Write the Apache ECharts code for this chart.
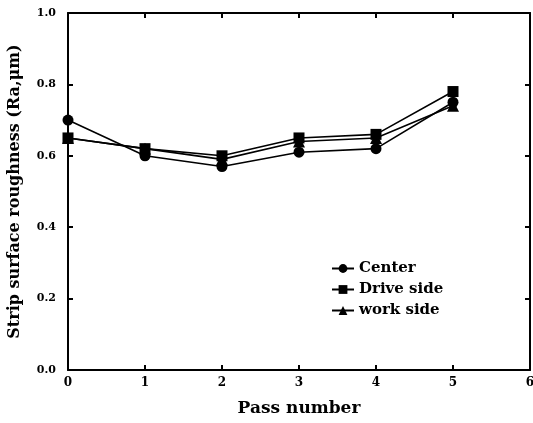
<!DOCTYPE html>
<html>
<head>
<meta charset="utf-8">
<script src="https://cdn.jsdelivr.net/npm/echarts@6/dist/echarts.min.js"></script>
<style>
  html, body { margin: 0; padding: 0; background: #fff; }
  #chart { width: 533px; height: 423px; }
</style>
</head>
<body>
<div id="chart"></div>
<script>
// Pass numbers along the rolling schedule
const passNumbers = [0, 1, 2, 3, 4, 5];

// Strip surface roughness Ra (µm) measured at three positions across the strip
const centerRa = [0.70, 0.60, 0.57, 0.61, 0.62, 0.75];
const driveSideRa = [0.65, 0.62, 0.60, 0.65, 0.66, 0.78];
const workSideRa = [0.65, 0.62, 0.59, 0.64, 0.65, 0.74];

const seriesNames = ['Center', 'Drive side', 'work side'];
const xTitle = 'Pass number';
const yTitle = 'Strip surface roughness (Ra,\u03bcm)';

const FONT = 'DejaVu Serif';
const INK = '#000';

function pairs(values) {
  return passNumbers.map((p, i) => [p, values[i]]);
}

function lineSeries(name, values, symbol, size) {
  return {
    name: name,
    type: 'line',
    data: pairs(values),
    symbol: symbol,
    symbolSize: size,
    itemStyle: { color: INK },
    lineStyle: { color: INK, width: 1.6 },
    emphasis: { disabled: true },
    animation: false
  };
}

const chart = echarts.init(document.getElementById('chart'), null, { renderer: 'canvas' });

// Top and right axes only close the frame: line plus inward ticks
const frameAxis = {
  show: true,
  axisLine: { show: true, onZero: false, lineStyle: { color: INK, width: 2 } },
  axisTick: { show: true, inside: true, length: 5, lineStyle: { color: INK, width: 2 } },
  axisLabel: { show: false },
  splitLine: { show: false }
};

chart.setOption({
  backgroundColor: '#fff',
  animation: false,
  grid: { left: 68, right: 3, top: 13, bottom: 53, containLabel: false, outerBoundsMode: 'none' },
  legend: {
    data: seriesNames,
    orient: 'vertical',
    left: 326,
    top: 256,
    itemWidth: 22,
    itemHeight: 11,
    itemGap: 6,
    textStyle: { fontFamily: FONT, fontWeight: 'bold', fontSize: 15, color: INK },
    selectedMode: false
  },
  xAxis: [
    Object.assign({}, frameAxis, {
      type: 'value', min: 0, max: 6, interval: 1, position: 'bottom',
      name: xTitle, nameLocation: 'middle', nameGap: 30,
      nameTextStyle: { fontFamily: FONT, fontWeight: 'bold', fontSize: 17, color: INK },
      axisLabel: {
        show: true, margin: 7, color: INK,
        fontFamily: FONT, fontWeight: 'bold', fontSize: 12,
        formatter: v => String(v)
      }
    }),
    Object.assign({}, frameAxis, {
      type: 'value', min: 0, max: 6, interval: 1, position: 'top'
    })
  ],
  yAxis: [
    Object.assign({}, frameAxis, {
      type: 'value', min: 0, max: 1, interval: 0.2, position: 'left',
      name: yTitle, nameLocation: 'middle', nameGap: 45,
      nameTextStyle: { fontFamily: FONT, fontWeight: 'bold', fontSize: 16, color: INK },
      axisLabel: {
        show: true, margin: 12, color: INK,
        fontFamily: FONT, fontWeight: 'bold', fontSize: 11,
        formatter: v => v.toFixed(1)
      }
    }),
    Object.assign({}, frameAxis, {
      type: 'value', min: 0, max: 1, interval: 0.2, position: 'right'
    })
  ],
  series: [
    lineSeries(seriesNames[0], centerRa, 'circle', 11),
    lineSeries(seriesNames[1], driveSideRa, 'rect', 11),
    lineSeries(seriesNames[2], workSideRa, 'triangle', 12)
  ]
});
</script>
</body>
</html>
